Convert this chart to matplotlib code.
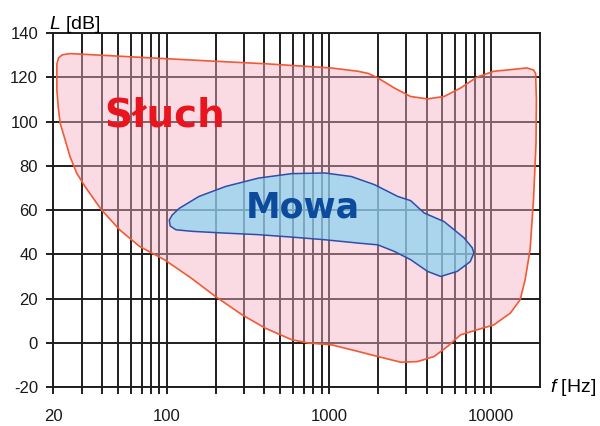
import matplotlib
matplotlib.use("Agg")
import matplotlib.pyplot as plt
from matplotlib.patches import Polygon

plt.rcParams['font.family'] = ['Liberation Sans', 'DejaVu Sans']
plt.rcParams['mathtext.fontset'] = 'custom'
plt.rcParams['mathtext.it'] = 'Liberation Sans:italic'
plt.rcParams['mathtext.rm'] = 'Liberation Sans'

# Hearing area ("Słuch") outline: frequency [Hz], level [dB]
hear_f = [21.0, 21.0, 21.4, 22.0, 23.6, 25.3, 27.8, 31.3, 39.5, 51.2, 67.9, 96.5,
          140, 200, 291, 405, 589, 746, 1035, 1510, 2000, 2780, 3515, 4450, 5370,
          6475, 8200, 10380, 13120, 15100, 16190, 17380, 18240, 18900, 19000,
          18800, 18240, 16600, 13060, 10380, 8200, 6460, 5130, 4045, 3185,
          2533, 2000, 1750, 1510, 1031, 405, 158, 25.3, 22.6, 21.5]
hear_L = [126, 114.5, 106.9, 99.4, 91.9, 84.3, 76.8, 70.7, 60.2, 51.1, 43.6, 37.6,
          29.5, 20.9, 12.7, 6.6, 1.4, -0.1, -0.9, -3.9, -6.2, -8.8, -8.5, -6.2, -1.7,
          3.6, 5.9, 8.1, 13.4, 19.5, 28.5, 42.1, 64.7, 90, 110,
          121.8, 123.4, 124.3, 123.5, 122.8, 120.2, 115.2, 111.4, 110.3, 111.4,
          115.2, 119.8, 121.8, 122.8, 124.3, 126.2, 127.7, 130.8, 130.2, 128.8]

# Speech area ("Mowa") outline
speech_f = [103.6, 108, 119.3, 158, 230.5, 368.5, 589, 944, 1374, 1910, 2653, 3186,
            3865, 5128, 6795, 7640, 7827, 7430, 6180, 4887, 4050, 3186, 2533,
            2000, 1510, 944, 589, 368, 230, 144, 114, 105]
speech_L = [55.5, 57.8, 60.8, 66.2, 70.7, 74.5, 76.5, 76.8, 75.2, 71.5, 66.2, 64.3,
            58.7, 54.8, 47.5, 43.0, 40.6, 36.7, 32.3, 30.0, 32.3, 37.6, 41.3,
            44.3, 45.1, 46.6, 47.8, 48.9, 49.6, 50.4, 51.1, 52.8]

y_ticks = [-20, 0, 20, 40, 60, 80, 100, 120, 140]
x_major = [20, 100, 1000, 10000]
x_major_labels = ['20', '100', '1000', '10000']
x_minor = [30, 40, 50, 60, 70, 80, 90, 200, 300, 400, 500, 600, 700, 800, 900,
           2000, 3000, 4000, 5000, 6000, 7000, 8000, 9000]

fig = plt.figure(figsize=(6.0, 4.26), dpi=100)
ax = fig.add_axes([0.089, 0.0915, 0.811, 0.8305])
ax.set_xscale('log')
ax.set_xlim(20, 20000)
ax.set_ylim(-20, 140)

gcol = '#1e1e1e'
glw = 1.4
ax.set_xticks(x_major)
ax.set_xticklabels(x_major_labels)
ax.set_xticks(x_minor, minor=True)
ax.set_xticklabels([], minor=True)
ax.set_yticks(y_ticks)
ax.set_yticklabels([str(v) for v in y_ticks])
ax.grid(True, which='both', color=gcol, lw=glw, zorder=0)
ax.set_axisbelow(True)
ax.tick_params(axis='both', which='both', direction='out', length=5,
               width=glw, color=gcol, labelsize=12, labelcolor='#1a1a1a')
ax.tick_params(axis='x', which='both', pad=11)
ax.tick_params(axis='y', pad=6)
for s in ax.spines.values():
    s.set_color(gcol)
    s.set_linewidth(glw)

hear = Polygon(list(zip(hear_f, hear_L)), closed=True, facecolor='#f7b0c2',
               alpha=0.45, edgecolor='none', zorder=2)
ax.add_patch(hear)
hear_edge = Polygon(list(zip(hear_f, hear_L)), closed=True, facecolor='none',
                    edgecolor='#f05a35', lw=1.2, zorder=3, joinstyle='round')
ax.add_patch(hear_edge)

speech = Polygon(list(zip(speech_f, speech_L)), closed=True, facecolor='#78d2f4',
                 alpha=0.62, edgecolor='none', zorder=4)
ax.add_patch(speech)
speech_edge = Polygon(list(zip(speech_f, speech_L)), closed=True, facecolor='none',
                      edgecolor='#2e4fa8', lw=1.1, zorder=5, joinstyle='round')
ax.add_patch(speech_edge)

ax.text(97, 103, 'Słuch', color='#e8141e', fontsize=28, fontweight='bold',
        family='DejaVu Sans', ha='center', va='center', zorder=6)
ax.text(690, 61, 'Mowa', color='#0b4a9c', fontsize=25, fontweight='bold',
        family='DejaVu Sans', ha='center', va='center', zorder=6)

ax.annotate(r'$L$ [dB]', xy=(0, 1), xycoords='axes fraction', xytext=(-3, -1),
            textcoords='offset points', ha='left', va='bottom', fontsize=14)
ax.annotate(r'$f$ [Hz]', xy=(1, 0), xycoords='axes fraction', xytext=(7, 0),
            textcoords='offset points', ha='left', va='center', fontsize=14,
            annotation_clip=False)

fig.savefig('out.png', dpi=100)
